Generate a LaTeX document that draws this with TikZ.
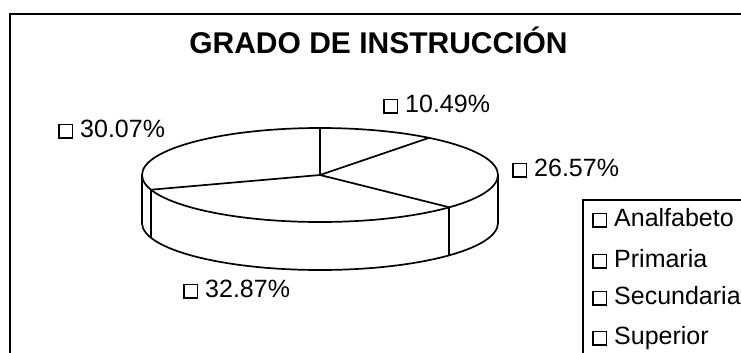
\documentclass[tikz,border=0pt]{standalone}
\usepackage{fontspec}
\setmainfont{Liberation Sans}
\usepackage{tikz}
\newcommand{\keybox}{{\fboxsep=0pt\fboxrule=1.5pt\fbox{\rule{0pt}{12pt}\hspace{12pt}}}\hspace{7pt}}
\tikzset{lbl/.style={anchor=base west, inner sep=0pt, font=\fontsize{25}{28}\selectfont},
  titletext/.style={anchor=base, inner sep=0pt, font=\fontsize{30}{33}\selectfont\bfseries},
  pieline/.style={line width=1.7pt, line join=round},
  frameline/.style={line width=1.4pt}}

\begin{document}
\begin{tikzpicture}[x=1pt,y=1pt]
\useasboundingbox (0,0) rectangle (741,-353);
\draw[frameline] (10,-353) -- (10,-14) -- (741,-14);
\node[titletext] (title) at (378.5,-54) {GRADO DE INSTRUCCIÓN};
\begin{scope}[shift={(320,-175)}, pieline]
\coordinate (c) at (0,0);
\coordinate (s0) at (90:178 and 47);
\coordinate (s1) at (52.236:178 and 47);
\coordinate (s2) at (-43.416:178 and 47);
\coordinate (s3) at (-161.748:178 and 47);
\draw (180:178 and 47) -- ++(0,-48) arc[start angle=180, end angle=360, x radius=178, y radius=47] -- (0:178 and 47);
\draw (c) ellipse [x radius=178, y radius=47];
\draw (s0) -- (c) -- (s1);
\draw (c) -- (s2);
\draw (c) -- (s3);
\draw (s2) -- ++(0,-48);
\draw (s3) -- ++(0,-48);
\end{scope}
\node[lbl] (p1049) at (383,-112) {\keybox 10.49\%};
\node[lbl] (p3007) at (58,-137) {\keybox 30.07\%};
\node[lbl] (p2657) at (512,-176) {\keybox 26.57\%};
\node[lbl] (p3287) at (183,-297) {\keybox 32.87\%};
\draw[frameline] (583,-353) -- (583,-200) -- (741,-200);
\node[lbl] (analf) at (592,-226) {\keybox Analfabeto};
\node[lbl] (prim) at (592,-267) {\keybox Primaria};
\node[lbl] (secu) at (592,-304) {\keybox Secundaria};
\node[lbl] (supe) at (592,-344) {\keybox Superior};
\end{tikzpicture}
\end{document}
